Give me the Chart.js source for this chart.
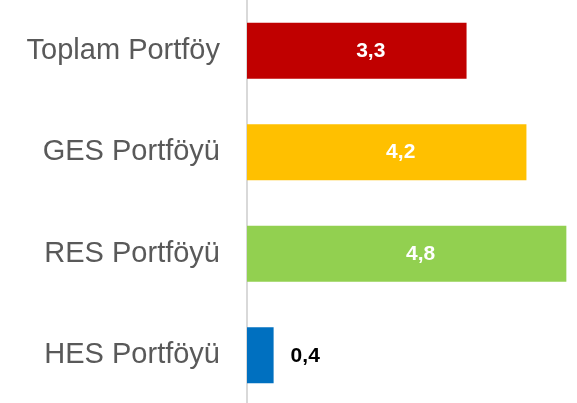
<!DOCTYPE html>
<html>
<head>
<meta charset="utf-8">
<script src="https://cdn.jsdelivr.net/npm/chart.js@4/dist/chart.umd.min.js"></script>
<style>
html,body{margin:0;padding:0;background:#fff;overflow:hidden;}
#wrap{width:577px;height:406px;position:relative;}
</style>
</head>
<body>
<div id="wrap"><canvas id="c" width="577" height="406"></canvas></div>
<script>
const categories = ["Toplam Portföy", "GES Portföyü", "RES Portföyü", "HES Portföyü"];
const values = [3.3, 4.2, 4.8, 0.4];
const valueLabels = ["3,3", "4,2", "4,8", "0,4"];
const barColors = ["#C00000", "#FFC000", "#92D050", "#0070C0"];

const labelPlugin = {
  id: 'valueLabels',
  afterDatasetsDraw(chart) {
    const ctx = chart.ctx;
    const meta = chart.getDatasetMeta(0);
    ctx.save();
    ctx.font = 'bold 21px "Liberation Sans", Arial, sans-serif';
    ctx.textBaseline = 'middle';
    meta.data.forEach((bar, i) => {
      const txt = valueLabels[i];
      const w = ctx.measureText(txt).width;
      const barW = bar.x - bar.base;
      if (w + 20 > barW) {
        ctx.fillStyle = '#000000';
        ctx.textAlign = 'left';
        ctx.fillText(txt, bar.x + 17, bar.y + 1);
      } else {
        ctx.fillStyle = '#FFFFFF';
        ctx.textAlign = 'center';
        ctx.fillText(txt, (bar.x + bar.base) / 2 + 14, bar.y);
      }
    });
    ctx.restore();
  }
};

new Chart(document.getElementById('c'), {
  type: 'bar',
  data: {
    labels: categories,
    datasets: [{
      data: values,
      backgroundColor: barColors,
      borderWidth: 0,
      categoryPercentage: 1,
      barPercentage: 0.55
    }]
  },
  options: {
    indexAxis: 'y',
    responsive: false,
    animation: false,
    devicePixelRatio: 1,
    layout: { padding: 0 },
    plugins: { legend: { display: false }, tooltip: { enabled: false } },
    scales: {
      x: { display: false, min: 0, max: 4.96 },
      y: {
        afterFit(scale) {
          scale.width = 247;
          scale.paddingTop = 0;
          scale.paddingBottom = 0;
        },
        grid: { display: false, drawTicks: false },
        border: { display: true, color: '#D9D9D9', width: 2 },
        ticks: {
          color: '#595959',
          padding: 27,
          font: { family: '"Liberation Sans", Arial, sans-serif', size: 29 }
        }
      }
    }
  },
  plugins: [labelPlugin]
});
</script>
</body>
</html>
